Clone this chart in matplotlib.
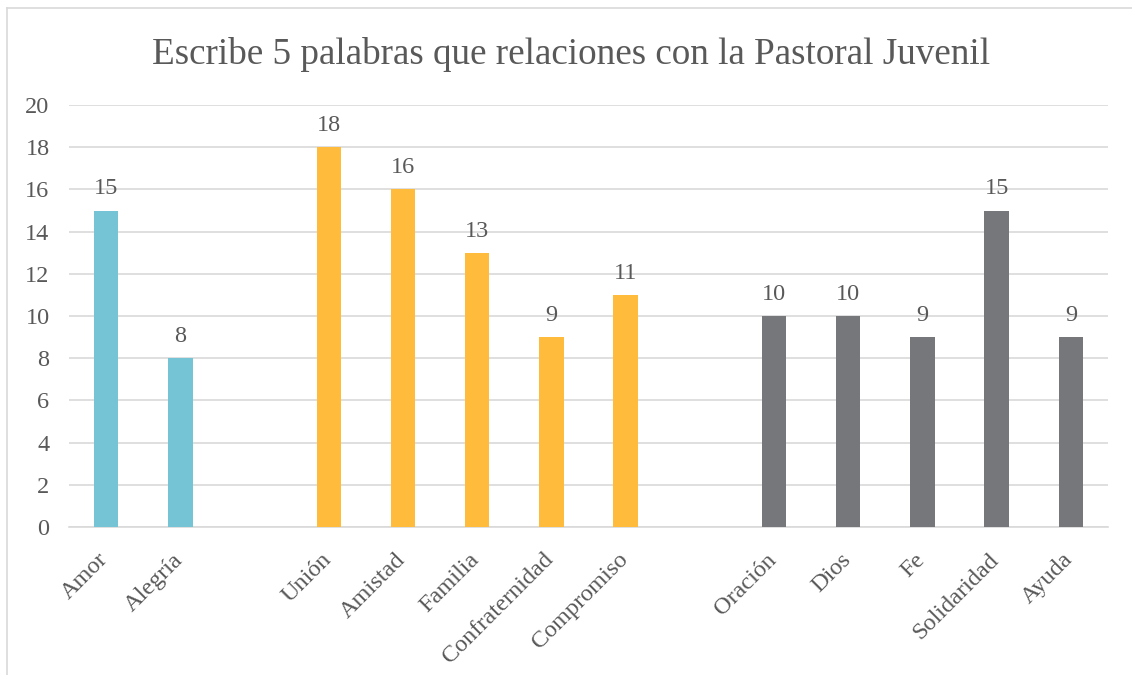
import matplotlib
matplotlib.use("Agg")
import matplotlib.pyplot as plt
import matplotlib.transforms as mtransforms
from matplotlib.lines import Line2D

# ------------------------------------------------------------
# DATA
# ------------------------------------------------------------
title = "Escribe 5 palabras que relaciones con la Pastoral Juvenil"

group_a = ["Amor", "Alegría"]
values_a = [15, 8]

group_b = ["Unión", "Amistad", "Familia", "Confraternidad", "Compromiso"]
values_b = [18, 16, 13, 9, 11]

group_c = ["Oración", "Dios", "Fe", "Solidaridad", "Ayuda"]
values_c = [10, 10, 9, 15, 9]

colors = ["#75C4D6", "#FFBC3C", "#76777B"]
y_ticks = [0, 2, 4, 6, 8, 10, 12, 14, 16, 18, 20]

TEXT = "#595959"
GRID = "#D9D9D9"

plt.rcParams["font.family"] = ["Liberation Serif", "DejaVu Serif"]

fig = plt.figure(figsize=(11.32, 6.75), dpi=100)
ax = fig.add_axes([69 / 1132, 148 / 675, (1108 - 69) / 1132, (527 - 105) / 675])

# one empty slot between the groups
labels, positions = [], []
pos = 0
for names, vals, col in zip([group_a, group_b, group_c],
                            [values_a, values_b, values_c], colors):
    xs = list(range(pos, pos + len(names)))
    ax.bar(xs, vals, width=0.33, color=col, zorder=3)
    for x, v in zip(xs, vals):
        ax.annotate(str(v), (x, v), xytext=(0, 8), textcoords="offset points",
                    ha="center", va="bottom", fontsize=17.5, color=TEXT)
    labels += names
    positions += xs
    pos += len(names) + 1

ax.set_xlim(-0.5, pos - 1.5)
ax.set_ylim(0, 20)
ax.set_yticks(y_ticks)
ax.set_xticks(positions)
ax.set_xticklabels(labels, rotation=45, ha="right", rotation_mode="anchor",
                   fontsize=17.5, color=TEXT)
ax.tick_params(axis="y", labelsize=17.5, labelcolor=TEXT, length=0, pad=14)
ax.tick_params(axis="x", length=0, pad=10)

# nudge rotated category labels down-left
shift = mtransforms.ScaledTranslation(-6 / 72, -6 / 72, fig.dpi_scale_trans)
for lbl in ax.get_xticklabels():
    lbl.set_transform(lbl.get_transform() + shift)

ax.grid(axis="y", color=GRID, linewidth=1.2, zorder=0)
for side in ["top", "right", "left"]:
    ax.spines[side].set_visible(False)
ax.spines["bottom"].set_color(GRID)
ax.spines["bottom"].set_linewidth(1.2)

fig.text(571 / 1132, 1 - 54 / 675, title, ha="center", va="center",
         fontsize=26.7, color=TEXT)

# chart frame (left and top edges only)
fig.add_artist(Line2D([7 / 1132, 7 / 1132], [0, 1 - 8 / 675],
                      transform=fig.transFigure, color=GRID, linewidth=1.2))
fig.add_artist(Line2D([7 / 1132, 1], [1 - 8 / 675, 1 - 8 / 675],
                      transform=fig.transFigure, color=GRID, linewidth=1.2))

fig.savefig("out.png", dpi=100, facecolor="white")
